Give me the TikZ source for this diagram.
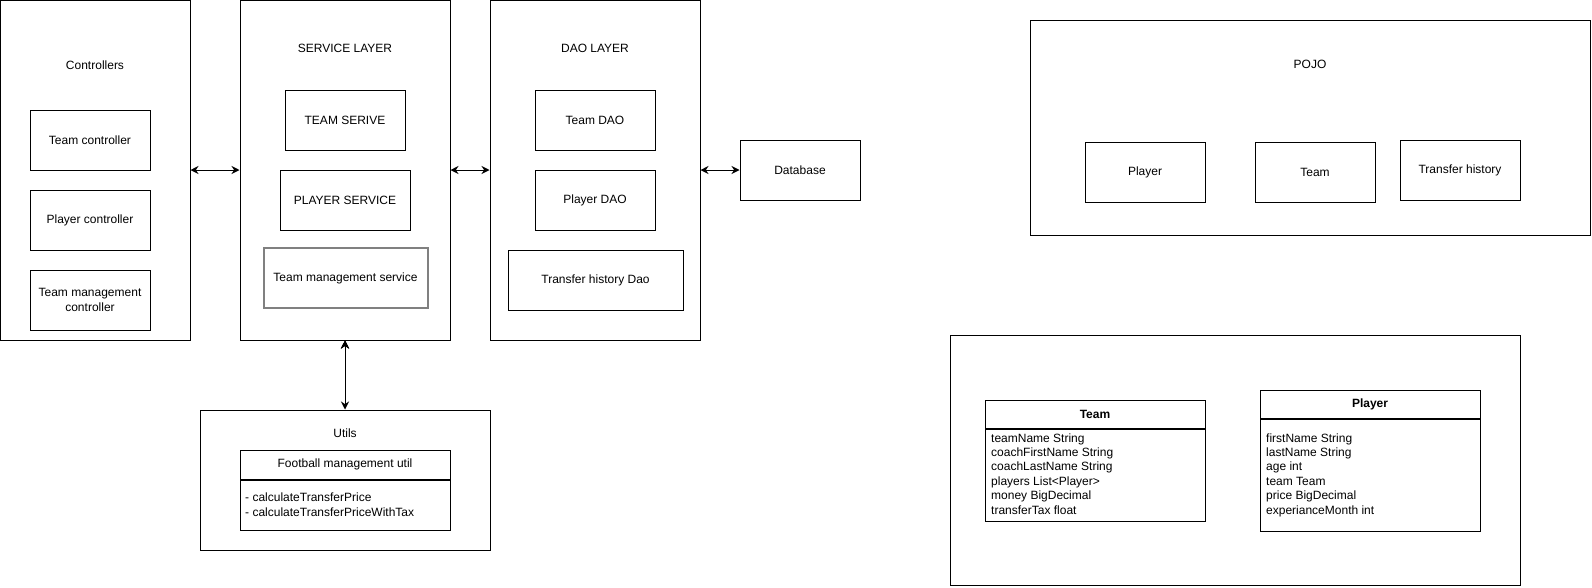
\documentclass[tikz,border=0pt]{standalone}
\usepackage{fontspec}
\setmainfont{Liberation Sans}
\usepackage{tikz}
\usetikzlibrary{positioning, arrows.meta}
\tikzset{
>={Stealth[length=8pt, width=8pt]}, % arrow heads of the connectors
x=1pt, y=-1pt, % one unit is one pixel of the sketch
every node/.style={font=\fontsize{12}{14.4}\selectfont, inner sep=0pt},
layer/.style={draw, line width=1pt, minimum width=210pt, minimum height=340pt}, % the big frames
box/.style={draw, line width=1pt, minimum width=120pt, minimum height=60pt, align=center}, % inner boxes
greybox/.style={box, draw=black!50, line width=2pt}, % the grey framed box
head/.style={draw, line width=1pt, font=\fontsize{12}{14.4}\selectfont\bfseries}, % class header
attrs/.style={anchor=base west, align=left}, % list of fields, placed by its last line
}

\begin{document}
\begin{tikzpicture}
\useasboundingbox (0,0) rectangle (1592,587);
% controllers
\node[layer, minimum width=190pt] (ctrl) at (95,170) {};
\node (ctrlt) at (95,65) {Controllers};
\node[box] (tc) at (90,140) {Team controller};
\node[box] (pc) at (90,220) {Player controller};
\node[box] (tmc) at (90,300) {Team management\\controller};
% service layer
\node[layer] (svc) at (345,170) {};
\node (svct) at (345,48) {SERVICE LAYER};
\node[box] (ts) at (345,120) {TEAM SERIVE};
\node[box, minimum width=130pt] (ps) at (345,200) {PLAYER SERVICE};
\node[greybox, minimum width=164pt] (tms) at (345.5,278) {Team management service};
% dao layer
\node[layer] (dao) at (595,170) {};
\node (daot) at (595,48) {DAO LAYER};
\node[box] (td) at (595,120) {Team DAO};
\node[box] (pd) at (595,200) {Player DAO};
\node[box, minimum width=175pt] (thd) at (595.5,280) {Transfer history Dao};
\node[box] (db) at (800,170) {Database};
% utils
\node[draw, line width=1pt, minimum width=290pt, minimum height=140pt] (utl) at (345,480) {};
\node (utlt) at (345,433) {Utils};
\node[head, font=\fontsize{12}{14.4}\selectfont, minimum width=210pt, minimum height=29pt] (fmu) at (345,464.5) {Football management util};
\node[draw, line width=1pt, minimum width=210pt, minimum height=50pt, below=0pt of fmu] (fmub) {};
\node[attrs] (fmum) at (245,516) {- calculateTransferPrice\\- calculateTransferPriceWithTax};
% pojo
\node[draw, line width=1pt, minimum width=560pt, minimum height=215pt] (pojo) at (1310,127.5) {};
\node (pojot) at (1310,64) {POJO};
\node[box] (pp) at (1145,172) {Player};
\node[box] (pt) at (1315,172) {Team};
\node[box] (pth) at (1460,170) {Transfer history};
% classes
\node[draw, line width=1pt, minimum width=570pt, minimum height=250pt] (model) at (1235,460) {};
\node[head, minimum width=220pt, minimum height=28pt] (tmh) at (1095,414) {Team};
\node[draw, line width=1pt, minimum width=220pt, minimum height=92pt, below=0pt of tmh] (tmb) {};
\node[attrs] (tma) at (991,514) {teamName String\\coachFirstName String\\coachLastName String\\players List<Player>\\money BigDecimal\\transferTax float};
\node[head, minimum width=220pt, minimum height=28pt] (plh) at (1370,404) {Player};
\node[draw, line width=1pt, minimum width=220pt, minimum height=112pt, below=0pt of plh] (plb) {};
\node[attrs] (pla) at (1266,514) {firstName String\\lastName String\\age int\\team Team\\price BigDecimal\\experianceMonth int};
% connectors
\draw[<->, line width=1pt]
(ctrl.east) edge (svc.west)
(svc.east) edge (dao.west)
(dao.east) edge (db.west)
(svc.south) edge (utl.north)
;
\end{tikzpicture}
\end{document}
